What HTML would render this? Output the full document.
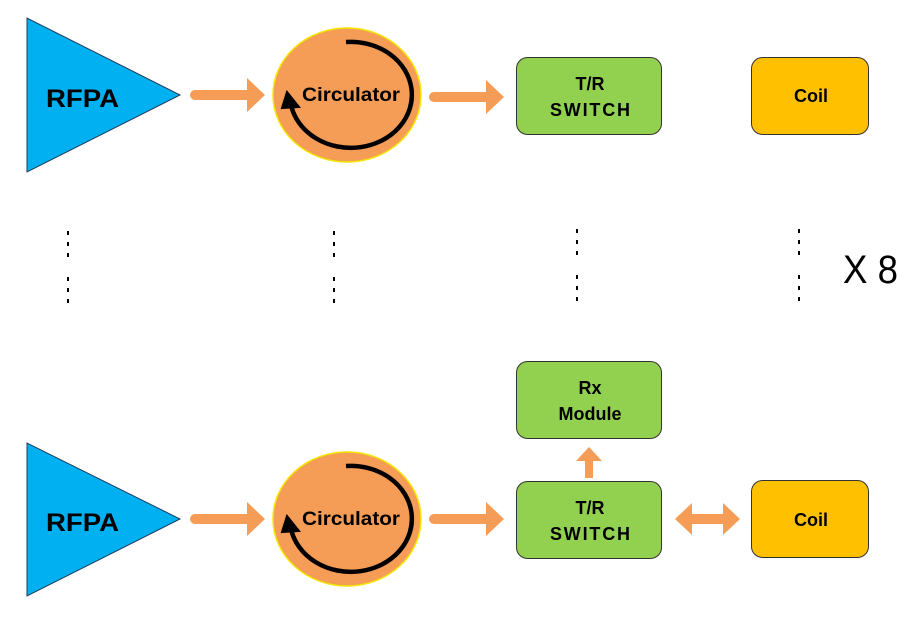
<!DOCTYPE html>
<html><head><meta charset="utf-8"><style>
html,body{margin:0;padding:0;background:#fff;}
svg{display:block;}
text{font-family:"Liberation Sans",Arial,sans-serif;font-weight:bold;fill:#000;}
</style></head><body>
<svg width="917" height="626" viewBox="0 0 917 626" xmlns="http://www.w3.org/2000/svg">
<defs>
<g id="harrow">
<path d="M0,-5 H52 V-17 L70,0 L52,17 V5 H0 A5,5 0 0 1 0,-5 Z" fill="#f59d56"/>
</g>
<g id="circ">
<ellipse cx="0" cy="0" rx="74" ry="67" fill="#f59d56" stroke="#f2e600" stroke-width="1.5"/>
<path d="M-1,-53 A61,53 0 1 1 -56,10" fill="none" stroke="#000" stroke-width="4.5"/>
<path d="M-60,-3 L-48,12 L-65,13 Z" fill="#000" stroke="#000" stroke-width="2"/>
<text x="4" y="6" font-size="19" text-anchor="middle" textLength="98" lengthAdjust="spacingAndGlyphs">Circulator</text>
</g>
</defs>

<!-- Row 1 -->
<polygon points="27,18 27,172 180,95" fill="#00b0f0" stroke="#1f3b5a" stroke-width="1"/>
<text x="46" y="107" font-size="25" textLength="73" lengthAdjust="spacingAndGlyphs">RFPA</text>
<use href="#harrow" x="195" y="95"/>
<use href="#circ" x="347" y="95"/>
<use href="#harrow" x="434" y="97"/>
<rect x="516.5" y="57.5" width="145" height="77" rx="11" fill="#92d050" stroke="#333" stroke-width="1"/>
<text x="590" y="90" font-size="18" text-anchor="middle">T/R</text>
<text x="590" y="116" font-size="18" text-anchor="middle" textLength="80" lengthAdjust="spacing">SWITCH</text>
<rect x="751.5" y="57.5" width="117" height="77" rx="11" fill="#ffc000" stroke="#333" stroke-width="1"/>
<text x="811" y="102" font-size="18" text-anchor="middle">Coil</text>

<!-- Dots -->
<g fill="#000">
<rect x="67" y="231" width="2" height="4"/><rect x="67" y="242" width="2" height="4"/><rect x="67" y="253" width="2" height="4"/>
<rect x="67" y="277" width="2" height="4"/><rect x="67" y="288" width="2" height="4"/><rect x="67" y="299" width="2" height="4"/>
<rect x="333" y="231" width="2" height="4"/><rect x="333" y="242" width="2" height="4"/><rect x="333" y="253" width="2" height="4"/>
<rect x="333" y="277" width="2" height="4"/><rect x="333" y="288" width="2" height="4"/><rect x="333" y="299" width="2" height="4"/>
<rect x="576" y="229" width="2" height="4"/><rect x="576" y="240" width="2" height="4"/><rect x="576" y="251" width="2" height="4"/>
<rect x="576" y="275" width="2" height="4"/><rect x="576" y="286" width="2" height="4"/><rect x="576" y="297" width="2" height="4"/>
<rect x="798" y="229" width="2" height="4"/><rect x="798" y="240" width="2" height="4"/><rect x="798" y="251" width="2" height="4"/>
<rect x="798" y="275" width="2" height="4"/><rect x="798" y="286" width="2" height="4"/><rect x="798" y="297" width="2" height="4"/>
</g>
<text x="843" y="283" font-size="40" style="font-weight:normal" textLength="55" lengthAdjust="spacingAndGlyphs">X 8</text>

<!-- Row 2 -->
<rect x="516.5" y="361.5" width="145" height="77" rx="11" fill="#92d050" stroke="#333" stroke-width="1"/>
<text x="590" y="394" font-size="18" text-anchor="middle">Rx</text>
<text x="590" y="420" font-size="18" text-anchor="middle">Module</text>
<path d="M585,478 V461 H576 L589,447 L602,461 H593 V478 Z" fill="#f59d56"/>

<polygon points="27,443 27,596 180,519" fill="#00b0f0" stroke="#1f3b5a" stroke-width="1"/>
<text x="46" y="531" font-size="25" textLength="73" lengthAdjust="spacingAndGlyphs">RFPA</text>
<use href="#harrow" x="195" y="519"/>
<use href="#circ" x="347" y="519"/>
<use href="#harrow" x="434" y="519"/>
<rect x="516.5" y="481.5" width="145" height="77" rx="11" fill="#92d050" stroke="#333" stroke-width="1"/>
<text x="590" y="514" font-size="18" text-anchor="middle">T/R</text>
<text x="590" y="540" font-size="18" text-anchor="middle" textLength="80" lengthAdjust="spacing">SWITCH</text>
<path d="M675,519 L692,503 V514 H723 V503 L740,519 L723,535 V524 H692 V535 Z" fill="#f59d56"/>
<rect x="751.5" y="480.5" width="117" height="77" rx="11" fill="#ffc000" stroke="#333" stroke-width="1"/>
<text x="811" y="526" font-size="18" text-anchor="middle">Coil</text>
</svg>
</body></html>
